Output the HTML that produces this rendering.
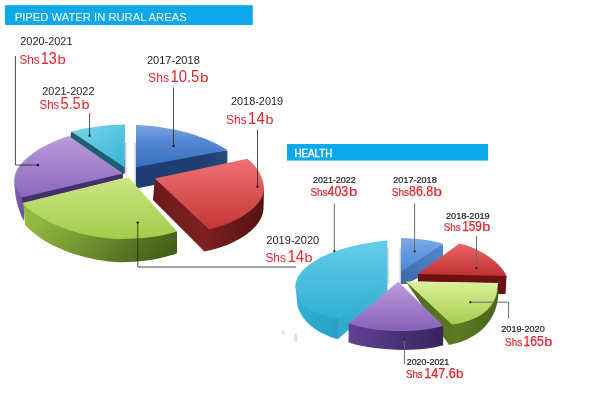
<!DOCTYPE html>
<html>
<head>
<meta charset="utf-8">
<title>Piped water and health budget</title>
<style>
html,body{margin:0;padding:0;background:#fff;}
body{width:600px;height:400px;overflow:hidden;}
svg{display:block;}
text{font-family:"Liberation Sans",sans-serif;}
.yr{fill:#222;}
.rd{fill:#e0262d;}
</style>
</head>
<body>
<svg width="600" height="400" viewBox="0 0 600 400">
<defs>
  <!-- pie 1 gradients -->
  <linearGradient id="g1cy" x1="0" y1="0" x2="1" y2="1">
    <stop offset="0" stop-color="#7dd6ea"/><stop offset="1" stop-color="#37b4d7"/>
  </linearGradient>
  <linearGradient id="g1pu" x1="0" y1="0" x2="0" y2="1">
    <stop offset="0" stop-color="#b99cdb"/><stop offset="1" stop-color="#8a68bd"/>
  </linearGradient>
  <linearGradient id="g1pus" x1="0" y1="0" x2="1" y2="0">
    <stop offset="0" stop-color="#8264b4"/><stop offset="1" stop-color="#5d4290"/>
  </linearGradient>
  <linearGradient id="g1gr" x1="0" y1="0" x2="0" y2="1">
    <stop offset="0" stop-color="#c9e684"/><stop offset="1" stop-color="#a3cc4a"/>
  </linearGradient>
  <linearGradient id="g1grs" x1="0" y1="0" x2="1" y2="0">
    <stop offset="0" stop-color="#93bd40"/><stop offset="0.35" stop-color="#7fa636"/><stop offset="0.7" stop-color="#5f8226"/><stop offset="1" stop-color="#49681b"/>
  </linearGradient>
  <linearGradient id="g1bl" x1="0" y1="0" x2="0" y2="1">
    <stop offset="0" stop-color="#7ca5e1"/><stop offset="0.35" stop-color="#5689d4"/><stop offset="1" stop-color="#376ec2"/>
  </linearGradient>
  <linearGradient id="g1rd" x1="0" y1="0" x2="0" y2="1">
    <stop offset="0" stop-color="#ed7373"/><stop offset="1" stop-color="#c63636"/>
  </linearGradient>
  <linearGradient id="g1rds" x1="0" y1="0" x2="1" y2="0">
    <stop offset="0" stop-color="#6a1a1a"/><stop offset="0.45" stop-color="#7e2121"/><stop offset="1" stop-color="#551111"/>
  </linearGradient>
  <!-- pie 2 gradients -->
  <linearGradient id="g2cy" x1="0" y1="0" x2="0" y2="1">
    <stop offset="0" stop-color="#66cde7"/><stop offset="1" stop-color="#2eb0d6"/>
  </linearGradient>
  <linearGradient id="g2cys" x1="0" y1="0" x2="1" y2="0">
    <stop offset="0" stop-color="#33b2d7"/><stop offset="1" stop-color="#2a9ec4"/>
  </linearGradient>
  <linearGradient id="g2bl" x1="0" y1="0" x2="0" y2="1">
    <stop offset="0" stop-color="#7aaae8"/><stop offset="1" stop-color="#4a85d6"/>
  </linearGradient>
  <linearGradient id="g2rd" x1="0" y1="0" x2="0" y2="1">
    <stop offset="0" stop-color="#e96666"/><stop offset="1" stop-color="#c23030"/>
  </linearGradient>
  <linearGradient id="g2gr" x1="0" y1="0" x2="0" y2="1">
    <stop offset="0" stop-color="#dcf09a"/><stop offset="1" stop-color="#a6cf4e"/>
  </linearGradient>
  <linearGradient id="g2pu" x1="0" y1="0" x2="0" y2="1">
    <stop offset="0" stop-color="#bb9ddc"/><stop offset="1" stop-color="#8660b9"/>
  </linearGradient>
  <linearGradient id="g2pus" x1="0" y1="0" x2="1" y2="0">
    <stop offset="0" stop-color="#5f4294"/><stop offset="1" stop-color="#38235c"/>
  </linearGradient>
  <linearGradient id="shR" x1="0" y1="0" x2="1" y2="0">
    <stop offset="0" stop-color="#9aa0a6" stop-opacity="0.75"/><stop offset="1" stop-color="#c8ccd0" stop-opacity="0"/>
  </linearGradient>
  <linearGradient id="shL" x1="1" y1="0" x2="0" y2="0">
    <stop offset="0" stop-color="#9aa0a6" stop-opacity="0.75"/><stop offset="1" stop-color="#c8ccd0" stop-opacity="0"/>
  </linearGradient>
  <linearGradient id="g2grs" x1="0" y1="0" x2="1" y2="0">
    <stop offset="0" stop-color="#4c661b"/><stop offset="0.55" stop-color="#5d7b24"/><stop offset="1" stop-color="#4a631a"/>
  </linearGradient>
  <linearGradient id="vdark" gradientUnits="userSpaceOnUse" x1="0" y1="225" x2="0" y2="263">
    <stop offset="0" stop-color="#000" stop-opacity="0"/><stop offset="1" stop-color="#000" stop-opacity="0.16"/>
  </linearGradient>
  <linearGradient id="g1bls" x1="0" y1="0" x2="1" y2="0">
    <stop offset="0" stop-color="#1f3f74"/><stop offset="0.7" stop-color="#1e3c6e"/><stop offset="1" stop-color="#2a4a7e"/>
  </linearGradient>
  <linearGradient id="g2bls" x1="1" y1="0" x2="0" y2="1">
    <stop offset="0" stop-color="#5687cc"/><stop offset="1" stop-color="#3f6aa9"/>
  </linearGradient>
  <linearGradient id="g2cyf" gradientUnits="userSpaceOnUse" x1="385" y1="275" x2="338" y2="335">
    <stop offset="0" stop-color="#4bbddd"/><stop offset="1" stop-color="#2da6cd"/>
  </linearGradient>
</defs>

<rect width="600" height="400" fill="#ffffff"/>

<!-- header bars -->
<rect x="5" y="5.2" width="247.8" height="19.8" fill="#0da8ea"/>
<text x="14.7" y="20.7" font-size="11.5" fill="#ffffff" textLength="172" lengthAdjust="spacingAndGlyphs">PIPED WATER IN RURAL AREAS</text>
<rect x="287" y="144" width="201" height="16.6" fill="#0da8ea"/>
<text x="294.4" y="157" font-size="11.2" fill="#ffffff" stroke="#ffffff" stroke-width="0.35" textLength="38" lengthAdjust="spacingAndGlyphs">HEALTH</text>

<!-- ================= PIE 1 ================= -->
<g id="pie1">
  <!-- soft shadows -->
  <rect x="125" y="143" width="2.6" height="32" fill="url(#shR)"/>
  <rect x="133.4" y="143" width="2.8" height="45" fill="url(#shL)"/>
  <!-- blue -->
  <path d="M136,160 L227.4,150.4 L227.4,171 L136,188.6 Z" fill="url(#g1bls)"/>
  <path d="M136,125 C160,125.5 200,132 227.6,150.2 L136,167.2 Z" fill="url(#g1bl)"/>
  <!-- cyan -->
  <path d="M71.3,131.5 L70.3,137.6 L100,165 L122,175 L124.8,173 L124.8,160 Z" fill="#1d5f70"/>
  <path d="M71.3,131.5 Q98,125 125,124.6 L124.8,167.5 Z" fill="url(#g1cy)"/>
  <!-- purple -->
  <path d="M14.4,179 C14,195 18,210 24,221 L24,203 L30,190 Z" fill="url(#g1pus)"/>
  <path d="M21.6,197.5 L60,180 L122.9,172 L122.9,178.6 L22.6,203.4 Z" fill="#44306a"/>
  <path d="M68.9,136 L122.9,173.5 L21.6,197.5 C17,190 14.4,184 14.4,179 C14.6,163 40,145 68.9,136 Z" fill="url(#g1pu)"/>
  <!-- red -->
  <path d="M154.8,178.5 L153,200 L204.4,251.5 C235,246 263.5,228 263.5,208 L264,190 L240,170 Z" fill="url(#g1rds)"/>
  <path d="M154.8,178.5 L247.3,158.7 C257,166 264,178 264,190 C262,208 235,224 209,229.2 Z" fill="url(#g1rd)"/>
  <!-- green -->
  <path d="M23.4,204.4 L25,225 C45,247 85,261 120,262.2 C145,262 165,258 177,253.2 L177,231.6 L130,200 Z" fill="url(#g1grs)"/>
  <path d="M23.4,204.4 L25,225 C45,247 85,261 120,262.2 C145,262 165,258 177,253.2 L177,231.6 L130,200 Z" fill="url(#vdark)"/>
  <path d="M129.5,178.3 L177,231.6 C160,237 140,239 120,239 C85,238 45,225 23.4,204.4 L22.4,203 L122.9,178.2 Z" fill="url(#g1gr)"/>
</g>

<!-- ================= PIE 2 ================= -->
<g id="pie2">
  <rect x="387.4" y="248" width="2.6" height="36" fill="url(#shR)"/>
  <rect x="398.4" y="248" width="2.8" height="36" fill="url(#shL)"/>
  <!-- blue small -->
  <path d="M401,260 L443,244.2 L443,256 L418,278 L406,284 L401,284 Z" fill="url(#g2bls)"/>
  <path d="M401,238 C420,238.5 434,240.5 443,244 L401,272 Z" fill="url(#g2bl)"/>
  <!-- red -->
  <path d="M418,274 L460,260 L506.6,276 L505.5,294 L498,294 L498,283 L418,281.5 Z" fill="#6a1212"/>
  <path d="M418,274 L459.4,243.4 C480,248 500,262 506.6,276 Z" fill="url(#g2rd)"/>
  <!-- cyan big -->
  <path d="M337.4,319 L338,339 L387.4,296 L387.4,270 Z" fill="url(#g2cyf)"/>
  <path d="M295.4,285 L297.5,306 C302,322 318,334 338,339.2 L338,310 L320,300 Z" fill="url(#g2cys)"/>
  <path d="M387.4,240.6 L387.4,275 L337.4,319 C325,316 310,311 305,306.5 C300,302 296,294 295.4,285 C297,266 330,246 387.4,240.6 Z" fill="url(#g2cy)"/>
  <!-- green -->
  <path d="M405.8,281.6 L449,345 C472,341 498,325 498.4,292 L497.4,284 L460,300 Z" fill="url(#g2grs)"/>
  <path d="M405.8,281.4 L497.4,283.2 C499,306 480,321 452,324.4 Z" fill="url(#g2gr)"/>
  <!-- purple -->
  <path d="M348.6,323.4 L348.6,342.6 C375,351 420,352.5 443.2,345.3 L443.2,325.7 L398,310 Z" fill="url(#g2pus)"/>
  <path d="M398.1,281.8 L443.2,325.7 C420,333 375,333 348.6,323.4 Z" fill="url(#g2pu)"/>
</g>

<ellipse cx="283.2" cy="332.5" rx="1.3" ry="2.6" fill="#b9bdc0" opacity="0.45"/>
<ellipse cx="295.6" cy="338" rx="1.8" ry="4.6" fill="#9fd2d6" opacity="0.5"/>
<!-- pointers pie 1 -->
<g stroke="#222" stroke-width="0.8" fill="none">
  <path d="M15.4,56 L15.4,165 L38,165"/>
  <path d="M89.6,113 L89.6,135.5"/>
  <path d="M173.5,87.5 L173.5,146"/>
  <path d="M257.5,129.7 L257.5,186.6"/>
  <path d="M137.8,222.6 L137.8,267 L296,267"/>
</g>
<g fill="#111">
  <circle cx="38" cy="165" r="1.2"/><circle cx="89.6" cy="135.5" r="1.2"/><circle cx="173.5" cy="146" r="1.2"/>
  <circle cx="257.5" cy="186.6" r="1.2"/><circle cx="137.8" cy="222.6" r="1.2"/>
</g>
<!-- pointers pie 2 -->
<g stroke="#6a6a6a" stroke-width="1" fill="none">
  <path d="M334.3,203.7 L334.3,251"/>
  <path d="M414.6,203.7 L414.6,251.4"/>
  <path d="M476.5,235.7 L476.5,268"/>
  <path d="M470.4,302.2 L508.6,302.2 L508.6,318.7"/>
  <path d="M404.4,339.6 L404.4,364"/>
</g>
<g fill="#222">
  <circle cx="334.3" cy="251" r="1.1"/><circle cx="414.6" cy="251.4" r="1.1"/><circle cx="476.5" cy="268" r="1.1"/>
  <circle cx="470.4" cy="302.2" r="1.1"/><circle cx="404.4" cy="339.6" r="1.1"/>
</g>

<!-- labels pie 1 -->
<g>
  <text class="yr" x="20.3" y="45.1" font-size="10.8" textLength="52.2" lengthAdjust="spacingAndGlyphs">2020-2021</text>
  <text class="rd" x="19.4" y="63.7" font-size="12" textLength="20.3" lengthAdjust="spacingAndGlyphs">Shs</text>
  <text class="rd" x="40.7" y="63.7" font-size="16.2" textLength="16.0" lengthAdjust="spacingAndGlyphs">13</text>
  <text class="rd" x="57.4" y="63.7" font-size="13" textLength="8.3" lengthAdjust="spacingAndGlyphs">b</text>

  <text class="yr" x="42.3" y="95.0" font-size="10.8" textLength="52.2" lengthAdjust="spacingAndGlyphs">2021-2022</text>
  <text class="rd" x="39.4" y="108.7" font-size="12" textLength="20.0" lengthAdjust="spacingAndGlyphs">Shs</text>
  <text class="rd" x="60.4" y="108.7" font-size="16.2" textLength="20.3" lengthAdjust="spacingAndGlyphs">5.5</text>
  <text class="rd" x="81.4" y="108.7" font-size="13" textLength="8.0" lengthAdjust="spacingAndGlyphs">b</text>

  <text class="yr" x="146.9" y="64.1" font-size="10.8" textLength="52.9" lengthAdjust="spacingAndGlyphs">2017-2018</text>
  <text class="rd" x="148.1" y="81.7" font-size="12" textLength="20.9" lengthAdjust="spacingAndGlyphs">Shs</text>
  <text class="rd" x="170.4" y="81.7" font-size="16.2" textLength="29.0" lengthAdjust="spacingAndGlyphs">10.5</text>
  <text class="rd" x="200.1" y="81.7" font-size="13" textLength="8.6" lengthAdjust="spacingAndGlyphs">b</text>

  <text class="yr" x="230.9" y="104.7" font-size="10.8" textLength="52.3" lengthAdjust="spacingAndGlyphs">2018-2019</text>
  <text class="rd" x="226.1" y="124.1" font-size="12" textLength="20.6" lengthAdjust="spacingAndGlyphs">Shs</text>
  <text class="rd" x="248.1" y="124.1" font-size="16.2" textLength="16.6" lengthAdjust="spacingAndGlyphs">14</text>
  <text class="rd" x="265.4" y="124.1" font-size="13" textLength="8.0" lengthAdjust="spacingAndGlyphs">b</text>

  <text class="yr" x="266.3" y="244.4" font-size="10.8" textLength="52.9" lengthAdjust="spacingAndGlyphs">2019-2020</text>
  <text class="rd" x="265.4" y="262.1" font-size="12" textLength="20.6" lengthAdjust="spacingAndGlyphs">Shs</text>
  <text class="rd" x="287.4" y="262.1" font-size="16.2" textLength="16.6" lengthAdjust="spacingAndGlyphs">14</text>
  <text class="rd" x="304.4" y="262.1" font-size="13" textLength="8.0" lengthAdjust="spacingAndGlyphs">b</text>
</g>

<!-- labels pie 2 -->
<g>
  <text class="yr" x="313" y="183.4" font-size="8.6" stroke="#222" stroke-width="0.2" textLength="42.7" lengthAdjust="spacingAndGlyphs">2021-2022</text>
  <text class="rd" x="310.4" y="196.3" font-size="10.5" stroke="#e0262d" stroke-width="0.2" textLength="17.2" lengthAdjust="spacingAndGlyphs">Shs</text>
  <text class="rd" x="327.5" y="196.3" font-size="14" stroke="#e0262d" stroke-width="0.25" textLength="20.7" lengthAdjust="spacingAndGlyphs">403</text>
  <text class="rd" x="348.9" y="196.3" font-size="12" stroke="#e0262d" stroke-width="0.2" textLength="8.2" lengthAdjust="spacingAndGlyphs">b</text>

  <text class="yr" x="393.3" y="183.4" font-size="8.6" stroke="#222" stroke-width="0.2" textLength="43.4" lengthAdjust="spacingAndGlyphs">2017-2018</text>
  <text class="rd" x="391.7" y="196.3" font-size="10.5" stroke="#e0262d" stroke-width="0.2" textLength="17.3" lengthAdjust="spacingAndGlyphs">Shs</text>
  <text class="rd" x="409.1" y="196.3" font-size="14" stroke="#e0262d" stroke-width="0.25" textLength="24.1" lengthAdjust="spacingAndGlyphs">86.8</text>
  <text class="rd" x="433.6" y="196.3" font-size="12" stroke="#e0262d" stroke-width="0.2" textLength="8.4" lengthAdjust="spacingAndGlyphs">b</text>

  <text class="yr" x="446" y="218.8" font-size="8.6" stroke="#222" stroke-width="0.2" textLength="43.6" lengthAdjust="spacingAndGlyphs">2018-2019</text>
  <text class="rd" x="443.7" y="231.3" font-size="10.5" stroke="#e0262d" stroke-width="0.2" textLength="17.0" lengthAdjust="spacingAndGlyphs">Shs</text>
  <text class="rd" x="462.2" y="231.3" font-size="14" stroke="#e0262d" stroke-width="0.25" textLength="19.6" lengthAdjust="spacingAndGlyphs">159</text>
  <text class="rd" x="482.3" y="231.3" font-size="12" stroke="#e0262d" stroke-width="0.2" textLength="8.1" lengthAdjust="spacingAndGlyphs">b</text>

  <text class="yr" x="501.3" y="332.1" font-size="8.6" stroke="#222" stroke-width="0.2" textLength="43.4" lengthAdjust="spacingAndGlyphs">2019-2020</text>
  <text class="rd" x="505.0" y="345.7" font-size="10.5" stroke="#e0262d" stroke-width="0.2" textLength="17.3" lengthAdjust="spacingAndGlyphs">Shs</text>
  <text class="rd" x="523.5" y="345.7" font-size="14" stroke="#e0262d" stroke-width="0.25" textLength="20.3" lengthAdjust="spacingAndGlyphs">165</text>
  <text class="rd" x="544.3" y="345.7" font-size="12" stroke="#e0262d" stroke-width="0.2" textLength="8.1" lengthAdjust="spacingAndGlyphs">b</text>

  <text class="yr" x="406.7" y="364.8" font-size="8.6" stroke="#222" stroke-width="0.2" textLength="42.6" lengthAdjust="spacingAndGlyphs">2020-2021</text>
  <text class="rd" x="406.0" y="377.7" font-size="10.5" stroke="#e0262d" stroke-width="0.2" textLength="16.7" lengthAdjust="spacingAndGlyphs">Shs</text>
  <text class="rd" x="424.2" y="377.7" font-size="14" stroke="#e0262d" stroke-width="0.25" textLength="31.6" lengthAdjust="spacingAndGlyphs">147.6</text>
  <text class="rd" x="455.9" y="377.7" font-size="12" stroke="#e0262d" stroke-width="0.2" textLength="7.5" lengthAdjust="spacingAndGlyphs">b</text>
</g>
</svg>
</body>
</html>
